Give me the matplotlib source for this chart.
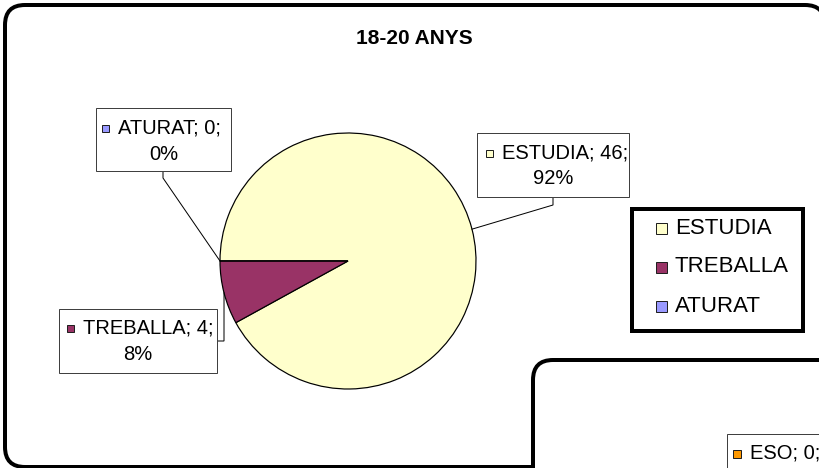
import numpy as np
import matplotlib
matplotlib.use("Agg")
import matplotlib.pyplot as plt
from matplotlib.patches import FancyBboxPatch, Rectangle

plt.rcParams['font.family'] = ['Liberation Sans', 'DejaVu Sans']

# ---- data ----
title = "18-20 ANYS"
categories = ["ESTUDIA", "TREBALLA", "ATURAT"]
values = [46, 4, 0]
colors = ["#FFFFCC", "#993366", "#9999FF"]
# partially visible neighbouring chart
next_label = "ESO"
next_value = 0
next_color = "#FF9900"

PX = 72.0 / 100.0  # points per pixel at dpi 100

fig = plt.figure(figsize=(8.2, 4.68), dpi=100)
ax = fig.add_axes([0, 0, 1, 1])

# outer rounded frame of the chart
outer = FancyBboxPatch((5, 5), 820, 462, boxstyle="round,pad=0,rounding_size=20",
                       fc="white", ec="black", lw=4 * PX, zorder=0)
ax.add_patch(outer)

# pie
cx, cy, R = 348, 261, 128
wedges, _ = ax.pie(values, colors=colors, startangle=180, counterclock=True,
                   center=(cx, cy), radius=R, frame=True,
                   wedgeprops=dict(edgecolor="black", linewidth=1.2 * PX))
for w in wedges:
    w.set_zorder(2)

total = float(sum(values))
fracs = [v / total for v in values]
cum = np.concatenate([[0], np.cumsum(fracs)[:-1]])
mid_angles = [180 + (c + f / 2) * 360 for c, f in zip(cum, fracs)]
anchors = [(cx + R * np.cos(np.radians(a)), cy + R * np.sin(np.radians(a))) for a in mid_angles]

# label boxes: (x0, y0, x1, y1), text start, line ys, leader path after anchor
label_layout = {
    "ESTUDIA": dict(box=(477, 133, 629, 197), tx=502, l1=153, l2=179,
                    leader=[(553, 205), (553, 197)]),
    "ATURAT": dict(box=(96, 108, 231, 171), tx=118, l1=128, l2=154,
                   leader=[(163, 178), (163, 171)]),
    "TREBALLA": dict(box=(59, 309, 217, 373), tx=83, l1=328, l2=354,
                     leader=[(224, 341), (217, 341)]),
}
FS_LAB = 14.5
for i, cat in enumerate(categories):
    L = label_layout[cat]
    x0, y0, x1, y1 = L["box"]
    ax.add_patch(Rectangle((x0, y0), x1 - x0, y1 - y0, fc="white", ec="#404040",
                           lw=1.0 * PX, zorder=4))
    pts = [anchors[i]] + L["leader"]
    ax.plot([p[0] for p in pts], [p[1] for p in pts], color="black", lw=1.0 * PX,
            zorder=3, solid_joinstyle="miter")
    ax.add_patch(Rectangle((L["tx"] - 16, L["l1"] - 3.5), 7.5, 7.5, fc=colors[i],
                           ec="#202020", lw=1.0 * PX, zorder=5))
    ax.text(L["tx"], L["l1"], f"{cat}; {values[i]};", fontsize=FS_LAB,
            ha="left", va="center", zorder=5)
    ax.text((x0 + x1) / 2, L["l2"], f"{round(fracs[i] * 100)}%", fontsize=FS_LAB,
            ha="center", va="center", zorder=5)

# title
ax.text(414, 38, title, fontsize=15, fontweight="bold", ha="center", va="center", zorder=5)

# legend (drawn by hand to match the framed box)
ax.add_patch(Rectangle((632, 209), 171, 122, fc="white", ec="black", lw=4 * PX, zorder=4))
leg_rows = [228, 267, 306]
for i, cat in enumerate(categories):
    ax.add_patch(Rectangle((656, leg_rows[i] - 5.5), 11, 11, fc=colors[i],
                           ec="#202020", lw=1.0 * PX, zorder=5))
    ax.text(675, leg_rows[i], cat, fontsize=16, ha="left", va="center", zorder=5)

# neighbouring chart (partially visible)
nxt = FancyBboxPatch((533, 360), 400, 300, boxstyle="round,pad=0,rounding_size=20",
                     fc="white", ec="black", lw=4 * PX, zorder=6)
ax.add_patch(nxt)
ax.add_patch(Rectangle((727, 434), 200, 100, fc="white", ec="#404040", lw=1.0 * PX, zorder=7))
ax.add_patch(Rectangle((733, 449.5), 8, 8, fc=next_color, ec="#202020", lw=1.0 * PX, zorder=8))
ax.text(750, 453, f"{next_label}; {next_value};", fontsize=FS_LAB, ha="left",
        va="center", zorder=8)

ax.set_xlim(0, 820)
ax.set_ylim(468, 0)
ax.set_aspect("auto")
ax.axis("off")

fig.savefig("out.png", dpi=100)
